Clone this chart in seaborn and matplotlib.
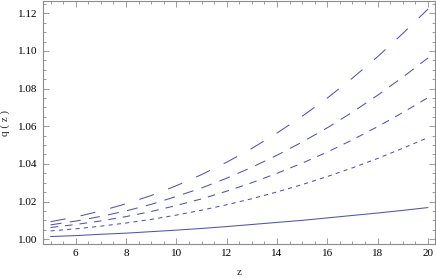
import matplotlib
matplotlib.use("Agg")
import matplotlib.pyplot as plt
import seaborn as sns
import pandas as pd
from matplotlib.ticker import MultipleLocator

z = [5, 6, 7, 8, 9, 10, 11, 12, 13, 14, 15, 16, 17, 18, 19, 20]
q_long = [1.0093, 1.0118, 1.0150, 1.0188, 1.0232, 1.0284, 1.0343, 1.0409,
          1.0482, 1.0564, 1.0653, 1.0750, 1.0856, 1.0970, 1.1093, 1.1223]
q_medium = [1.0076, 1.0096, 1.0121, 1.0150, 1.0185, 1.0227, 1.0272, 1.0324,
            1.0382, 1.0446, 1.0516, 1.0592, 1.0675, 1.0765, 1.0861, 1.0963]
q_short = [1.0062, 1.0078, 1.0097, 1.0120, 1.0147, 1.0179, 1.0214, 1.0255,
           1.0300, 1.0350, 1.0404, 1.0463, 1.0528, 1.0598, 1.0673, 1.0752]
q_dotted = [1.0044, 1.0055, 1.0069, 1.0086, 1.0105, 1.0128, 1.0154, 1.0183,
            1.0215, 1.0251, 1.0290, 1.0333, 1.0379, 1.0429, 1.0483, 1.0540]
q_solid = [1.0014, 1.0019, 1.0026, 1.0032, 1.0040, 1.0048, 1.0057, 1.0067,
           1.0078, 1.0089, 1.0100, 1.0113, 1.0126, 1.0139, 1.0153, 1.0168]

series = [q_long, q_medium, q_short, q_dotted, q_solid]
dash_styles = [(11, 11), (8, 6), (5.5, 5), (3, 3), None]

sns.set_style("ticks")
plt.rcParams['font.family'] = ['Liberation Serif', 'DejaVu Serif']
plt.rcParams['lines.scale_dashes'] = False

fig = plt.figure(figsize=(4.36, 2.80), dpi=100)
ax = fig.add_axes([0.0986, 0.129, 0.898, 0.867])

color = "#5252b0"
for vals, ds in zip(series, dash_styles):
    df = pd.DataFrame({"z": z, "q": vals})
    sns.lineplot(data=df, x="z", y="q", ax=ax, color=color, linewidth=0.75)
    line = ax.lines[-1]
    if ds is not None:
        line.set_dashes(ds)

ax.set_xlim(4.7, 20.26)
ax.set_ylim(0.9975, 1.1265)
ax.xaxis.set_major_locator(MultipleLocator(2))
ax.xaxis.set_minor_locator(MultipleLocator(0.5))
ax.yaxis.set_major_locator(MultipleLocator(0.02))
ax.yaxis.set_minor_locator(MultipleLocator(0.005))
ax.yaxis.set_major_formatter(matplotlib.ticker.FormatStrFormatter('%.2f'))

frame_col = "#8c8c8c"
for s in ax.spines.values():
    s.set_visible(True)
    s.set_color(frame_col)
    s.set_linewidth(0.8)
ax.tick_params(which='both', direction='in', top=True, right=True,
               color=frame_col, labelsize=8, labelcolor='black', width=0.6)
ax.tick_params(which='major', length=4.5, pad=4)
ax.tick_params(which='minor', length=2.2)

ax.set_xlabel("z", fontsize=8, labelpad=7)
ax.set_ylabel("q ( z )", fontsize=8, labelpad=6)

fig.savefig("out.png", dpi=100)
